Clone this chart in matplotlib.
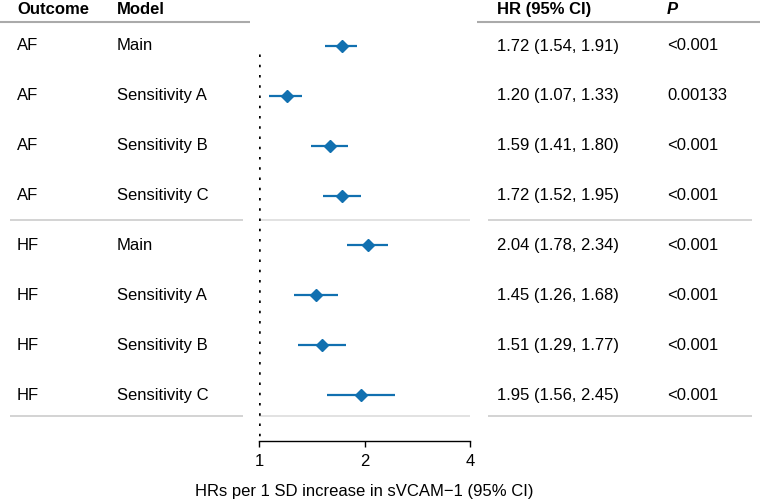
import matplotlib.pyplot as plt

plt.rcParams['font.family'] = ['Liberation Sans', 'DejaVu Sans']

outcomes = ['AF', 'AF', 'AF', 'AF', 'HF', 'HF', 'HF', 'HF']
models = ['Main', 'Sensitivity A', 'Sensitivity B', 'Sensitivity C',
          'Main', 'Sensitivity A', 'Sensitivity B', 'Sensitivity C']
hr = [1.72, 1.20, 1.59, 1.72, 2.04, 1.45, 1.51, 1.95]
lower = [1.54, 1.07, 1.41, 1.52, 1.78, 1.26, 1.29, 1.56]
upper = [1.91, 1.33, 1.80, 1.95, 2.34, 1.68, 1.77, 2.45]
p_values = ['<0.001', '0.00133', '<0.001', '<0.001',
            '<0.001', '<0.001', '<0.001', '<0.001']
x_ticks = [1, 2, 4]

blue = '#1170b0'
W, H = 762, 503
row0, step = 46, 49.86


def to_row(py):
    return (py - row0) / step


fig = plt.figure(figsize=(W / 100, H / 100), dpi=100)

# background axes for the table, x in pixels, y in row units
bg = fig.add_axes([0, 0, 1, 1])
bg.set_xlim(0, W)
bg.set_ylim(to_row(H), to_row(0))
bg.axis('off')

fs = 12
hy = to_row(9.5)
bg.text(17, hy, 'Outcome', fontsize=fs, fontweight='bold', va='center')
bg.text(117, hy, 'Model', fontsize=fs, fontweight='bold', va='center')
bg.text(497, hy, 'HR (95% CI)', fontsize=fs, fontweight='bold', va='center')
bg.text(667, hy, 'P', fontsize=fs, fontweight='bold', style='italic', va='center')

for i in range(len(hr)):
    bg.text(17, i, outcomes[i], fontsize=fs, va='center')
    bg.text(117, i, models[i], fontsize=fs, va='center')
    bg.text(497, i, f'{hr[i]:.2f} ({lower[i]:.2f}, {upper[i]:.2f})', fontsize=fs, va='center')
    bg.text(667, i, p_values[i], fontsize=fs, va='center')

# header rule
hl = to_row(22)
bg.plot([0, 250], [hl, hl], color='#aaaaaa', lw=1.5, solid_capstyle='butt')
bg.plot([477, 760], [hl, hl], color='#aaaaaa', lw=1.5, solid_capstyle='butt')

# group dividers
for py in (219.5, 416):
    r = to_row(py)
    bg.plot([10, 243], [r, r], color='#cccccc', lw=1.2, solid_capstyle='butt')
    bg.plot([259, 470], [r, r], color='#dddddd', lw=1.2, solid_capstyle='butt')
    bg.plot([488, 752], [r, r], color='#cccccc', lw=1.2, solid_capstyle='butt')

# forest axes
ax = fig.add_axes([259 / W, (H - 441) / H, 211 / W, (441 - 22) / H])
ax.patch.set_alpha(0)
ax.set_xscale('log', base=2)
ax.set_xlim(1, 4)
ax.set_ylim(to_row(441), to_row(22))

ax.plot([1, 1], [to_row(54), to_row(441)], color='black', lw=1.8,
        linestyle=(0, (1, 3.1)), solid_capstyle='butt')
rows = list(range(len(hr)))
ax.hlines(rows, lower, upper, color=blue, lw=1.6)
ax.plot(hr, rows, 'D', color=blue, markersize=6.2, linestyle='none')

for s in ('top', 'right', 'left'):
    ax.spines[s].set_visible(False)
ax.spines['bottom'].set_linewidth(1)
ax.set_yticks([])
ax.set_xticks(x_ticks)
ax.set_xticklabels([str(t) for t in x_ticks])
ax.minorticks_off()
ax.tick_params(axis='x', length=4.5, width=1, labelsize=fs, pad=4.5)
ax.set_xlabel('HRs per 1 SD increase in sVCAM\u22121 (95% CI)', fontsize=fs, labelpad=11)

fig.savefig('out.png', dpi=100)
